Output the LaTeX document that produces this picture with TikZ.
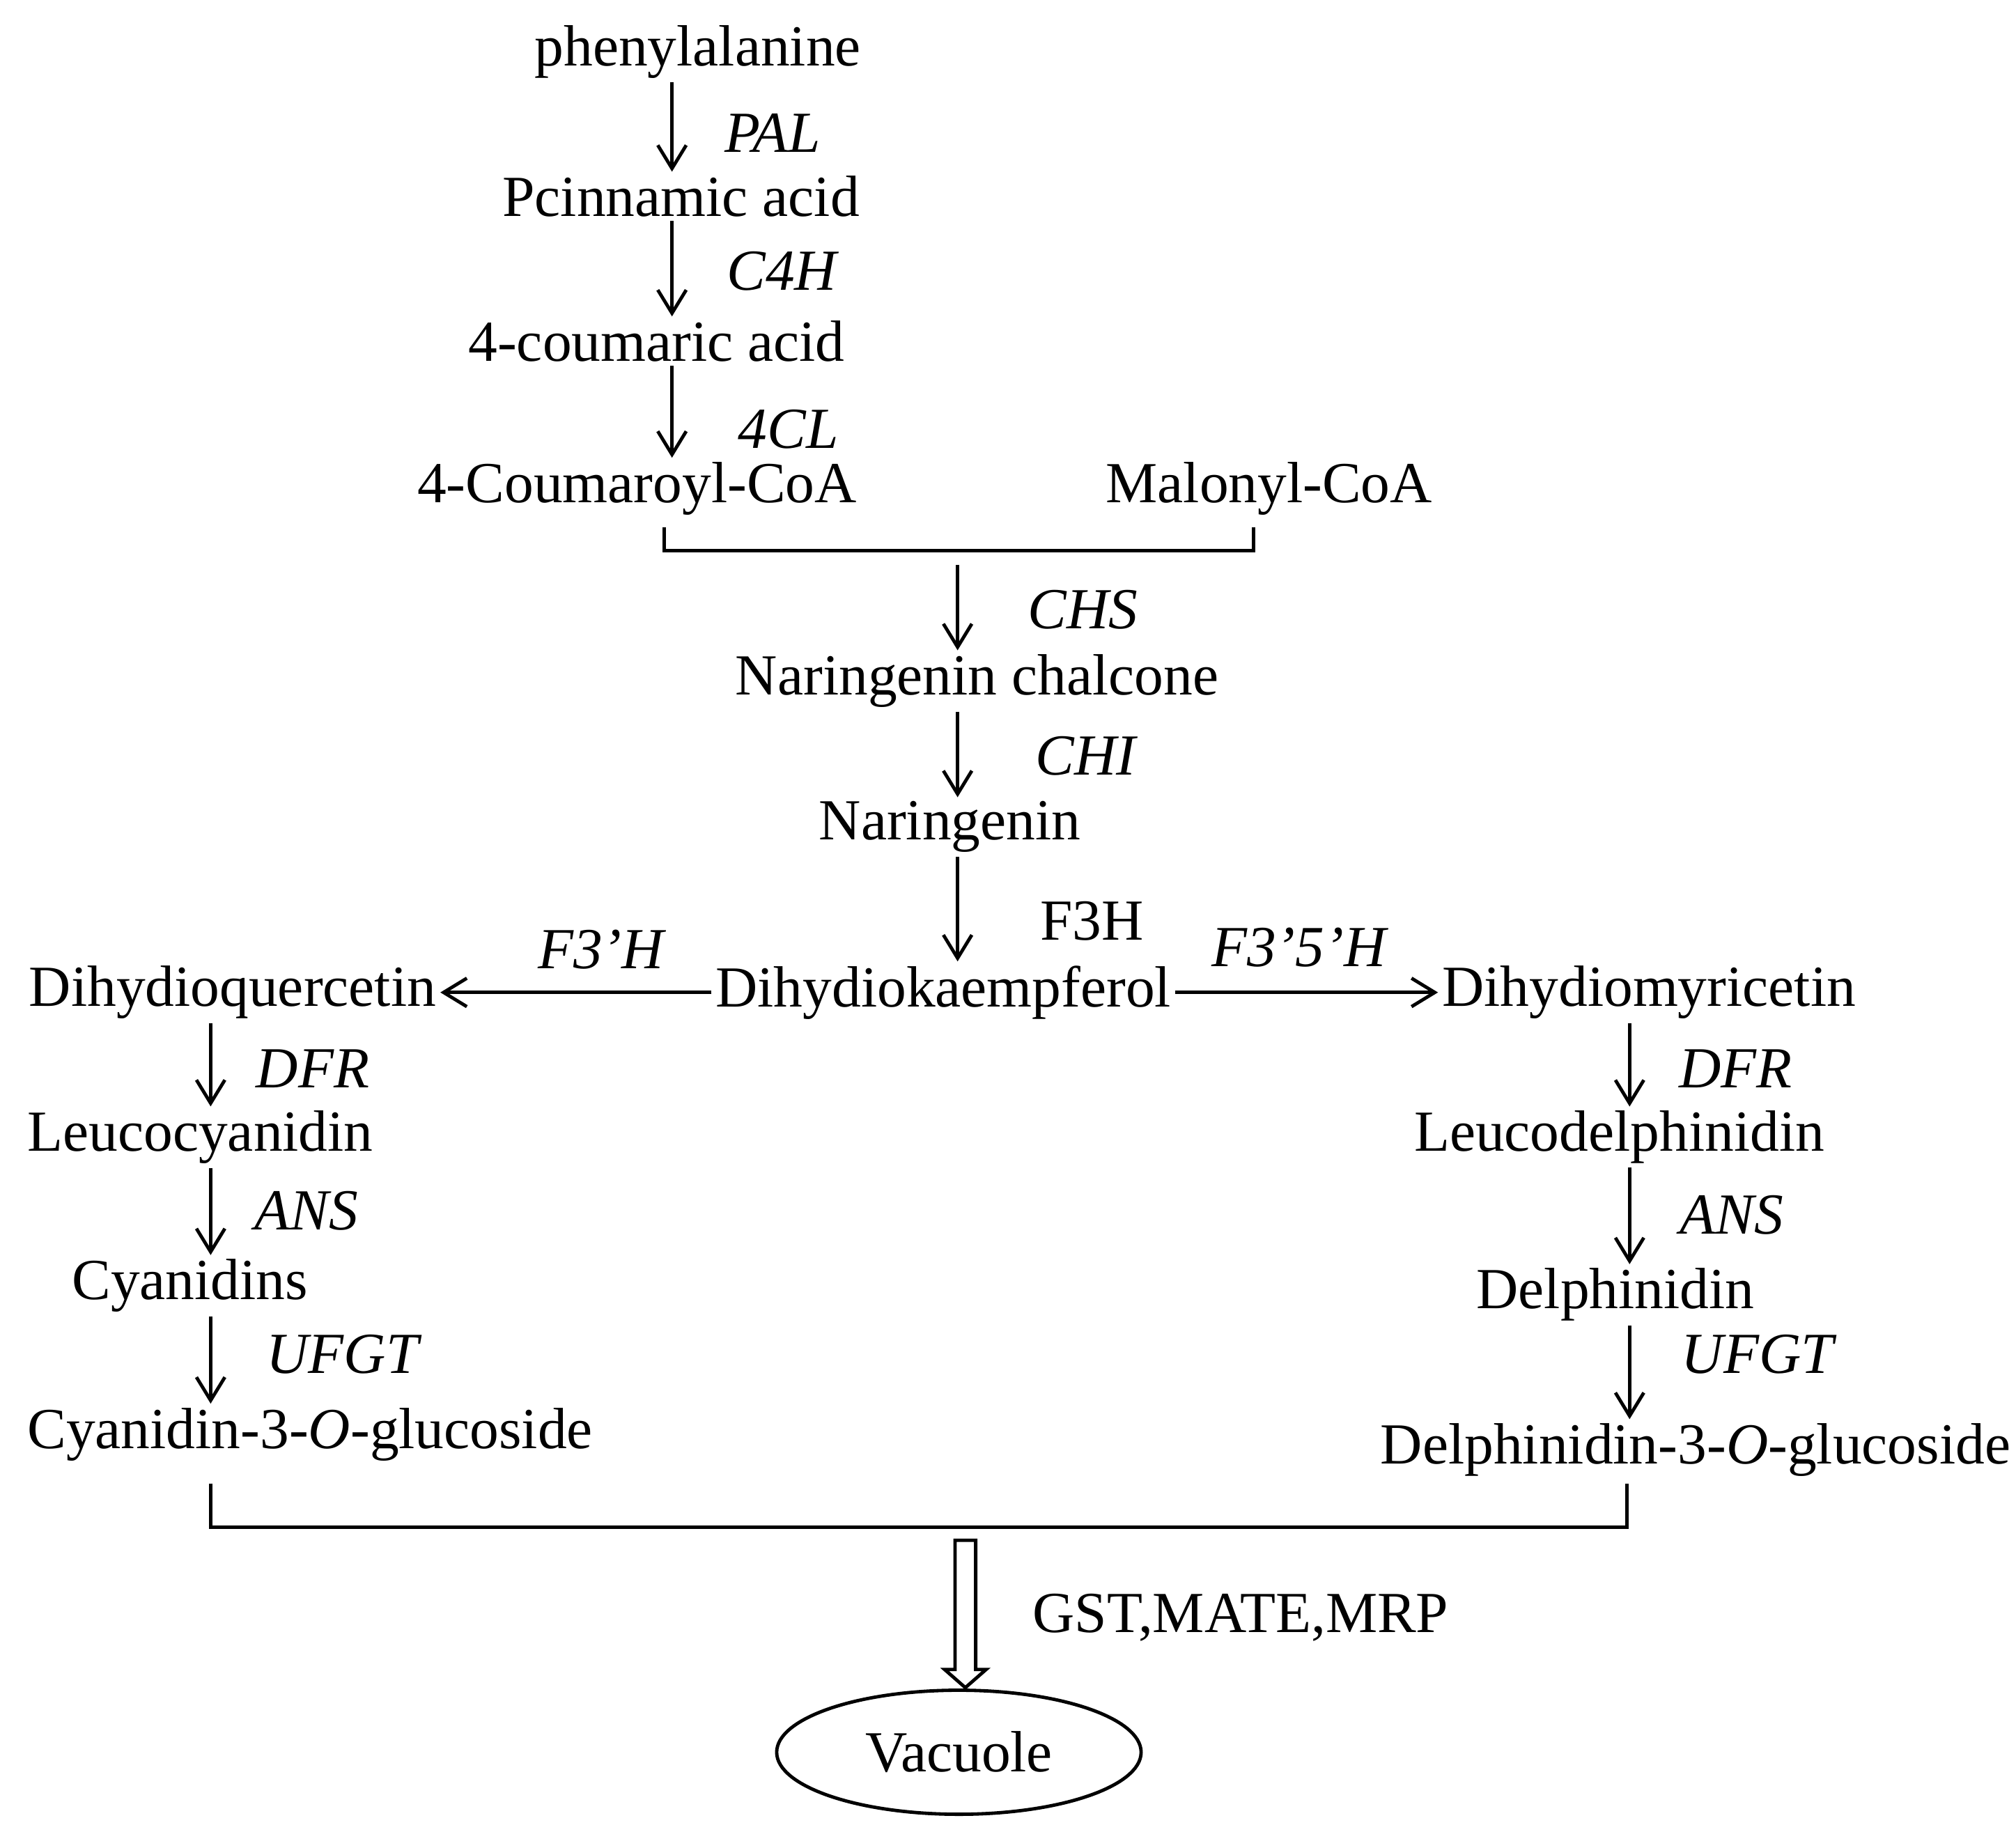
\documentclass[tikz,border=0pt]{standalone}
\usepackage{fontspec}
\setmainfont{Liberation Serif}
\usetikzlibrary{arrows.meta,shapes.geometric}
\tikzset{every picture/.style={line width=1.3pt}}
\tikzset{
  cmpd/.style={inner sep=1pt,font=\fontsize{22.5}{27}\selectfont},
  enz/.style={inner sep=1pt,font=\fontsize{22.5}{27}\selectfont\itshape},
  step arrow/.style={-{Straight Barb[length=9pt,width=11pt]}},
}
\begin{document}
\begin{tikzpicture}[x=0.5pt,y=0.5pt,yscale=-1,xscale=1]
\useasboundingbox (0,0) rectangle (1560,1412);

% compounds
\node[cmpd] (phe) at (540,40) {phenylalanine};
\node[cmpd] (pci) at (527,152) {Pcinnamic acid};
\node[cmpd] (cou) at (508,264) {4-coumaric acid};
\node[cmpd] (coa) at (493,378) {4-Coumaroyl-CoA};
\node[cmpd] (mal) at (982,378) {Malonyl-CoA};
\node[cmpd] (nch) at (756,527) {Naringenin chalcone};
\node[cmpd] (nar) at (735,640) {Naringenin};
\node[cmpd] (dhk) at (730,768) {Dihydiokaempferol};
\node[cmpd] (dhq) at (180,768) {Dihydioquercetin};
\node[cmpd] (dhm) at (1276,768) {Dihydiomyricetin};
\node[cmpd] (lcy) at (155,880) {Leucocyanidin};
\node[cmpd] (cya) at (147,995) {Cyanidins};
\node[cmpd] (c3g) at (240,1110) {Cyanidin-3-\textit{O}-glucoside};
\node[cmpd] (lde) at (1253,880) {Leucodelphinidin};
\node[cmpd] (del) at (1250,1002) {Delphinidin};
\node[cmpd] (d3g) at (1312,1122) {Delphinidin-3-\textit{O}-glucoside};
\node[draw,ellipse,minimum width=141pt,minimum height=48pt,cmpd] (vac) at (742,1356) {Vacuole};

% enzymes
\node[enz] (pal) at (598,103) {PAL};
\node[enz] (c4h) at (605,210) {C4H};
\node[enz] (fcl) at (610,332) {4CL};
\node[enz] (chs) at (838,472) {CHS};
\node[enz] (chi) at (840,585) {CHI};
\node[cmpd] (f3h) at (845,713) {F3H};
\node[enz] (fqh) at (465,735) {F3'H};
\node[enz] (fmh) at (1005,733) {F3'5'H};
\node[enz] (dfrl) at (242,827) {DFR};
\node[enz] (ansl) at (237,937) {ANS};
\node[enz] (ufl) at (265,1048) {UFGT};
\node[enz] (dfrr) at (1343,827) {DFR};
\node[enz] (ansr) at (1340,940) {ANS};
\node[enz] (ufr) at (1360,1048) {UFGT};
\node[cmpd] (tra) at (960,1252) {GST,MATE,MRP};

\coordinate (ax) at (520,0);
\coordinate (bx) at (741,0);
\coordinate (lx) at (163,0);
\coordinate (rx) at (1261,0);

% upper chain
\draw[step arrow] (phe.south -| ax) -- (pci.north -| ax);
\draw[step arrow] (pci.south -| ax) -- (cou.north -| ax);
\draw[step arrow] (cou.south -| ax) -- (coa.north -| ax);
\draw (514,408) -- (514,426) -- (970,426) -- (970,408);
\draw[step arrow] (741,437) -- (nch.north -| bx);
\draw[step arrow] (nch.south -| bx) -- (nar.north -| bx);
\draw[step arrow] (nar.south -| bx) -- (dhk.north -| bx);
\draw[step arrow] (dhk.west) -- (dhq.east);
\draw[step arrow] (dhk.east) -- (dhm.west);

% branches
\draw[step arrow] (dhq.south -| lx) -- (lcy.north -| lx);
\draw[step arrow] (lcy.south -| lx) -- (cya.north -| lx);
\draw[step arrow] (cya.south -| lx) -- (c3g.north -| lx);
\draw[step arrow] (dhm.south -| rx) -- (lde.north -| rx);
\draw[step arrow] (lde.south -| rx) -- (del.north -| rx);
\draw[step arrow] (del.south -| rx) -- (d3g.north -| rx);

% transport
\draw (163,1148) -- (163,1182) -- (1259,1182) -- (1259,1148);
\draw (739,1192) -- (755,1192) -- (755,1292) -- (763,1292) -- (747,1306)
  -- (731,1292) -- (739,1292) -- cycle;
\end{tikzpicture}
\end{document}
